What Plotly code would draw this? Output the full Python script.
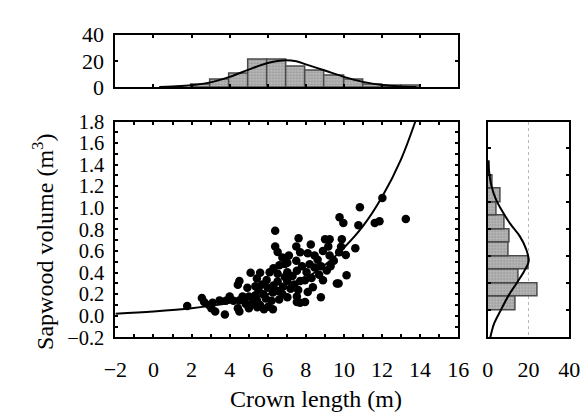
import plotly.graph_objects as go

# ---------------- data ----------------
crown_length = [
    1.77, 2.54, 2.66, 2.91, 3.04, 3.24, 3.75, 3.47, 4.0, 4.51, 4.68, 5.01, 5.35, 4.43, 4.51, 5.01,
    5.1, 4.51, 4.43, 4.93, 5.35, 5.2, 4.85, 5.45, 3.1, 3.8, 4.2,
    6.61, 7.03, 8.2, 6.1, 6.52, 7.03, 7.53, 8.04, 8.46, 5.43, 5.94, 6.52, 7.03, 7.7, 7.95, 9.63,
    8.37, 8.79, 5.51, 5.77, 6.27, 6.77, 7.03, 7.53, 7.53, 7.96, 5.43, 6.02, 6.27,
    5.7, 6.0, 6.3, 6.8, 7.2, 7.4, 6.5, 5.9, 6.2, 6.6, 5.6, 5.8, 6.9, 7.3, 8.7, 8.9, 8.3, 9.1,
    9.3, 8.8, 7.8, 6.3, 5.6, 7.6, 8.1, 7.7,
    6.39, 7.62, 6.39, 6.52, 7.5, 7.7, 8.26, 9.01, 9.25, 9.18, 6.77, 7.11, 6.9, 7.5, 8.46, 8.62,
    9.25, 9.47, 8.9, 8.1,
    12.02, 10.84, 9.77, 9.97, 10.76, 11.62, 11.87, 13.25, 9.89, 9.85, 9.75, 10.6, 10.1,
    10.14, 9.72,
]
sapwood_volume = [
    0.09, 0.166, 0.128, 0.10, 0.07, 0.04, 0.012, 0.143, 0.178, 0.143, 0.178, 0.18, 0.19, 0.07, 0.04, 0.07,
    0.398, 0.323, 0.288, 0.259, 0.274, 0.12, 0.11, 0.08, 0.12, 0.14, 0.14,
    0.468, 0.491, 0.477, 0.404, 0.39, 0.404, 0.418, 0.404, 0.448, 0.346, 0.332, 0.317, 0.32, 0.323, 0.33, 0.30,
    0.265, 0.172, 0.244, 0.20, 0.215, 0.20, 0.172, 0.178, 0.128, 0.128, 0.143, 0.085, 0.061,
    0.29, 0.26, 0.28, 0.27, 0.25, 0.29, 0.23, 0.16, 0.14, 0.15, 0.10, 0.06, 0.36, 0.37, 0.38, 0.33, 0.35, 0.42,
    0.46, 0.46, 0.46, 0.44, 0.40, 0.24, 0.22, 0.12,
    0.787, 0.718, 0.642, 0.592, 0.642, 0.59, 0.66, 0.709, 0.709, 0.642, 0.54, 0.558, 0.48, 0.511, 0.558, 0.52,
    0.558, 0.51, 0.60, 0.58,
    1.092, 1.005, 0.912, 0.86, 0.84, 0.86, 0.877, 0.897, 0.709, 0.64, 0.59, 0.627, 0.564,
    0.375, 0.30,
]

# fitted curve, points
fit_x = [-2, 0, 2, 4, 6, 8, 9, 10, 11, 12, 13, 13.75]
fit_y = [0.02, 0.04, 0.07, 0.12, 0.20, 0.35, 0.47, 0.63, 0.83, 1.10, 1.45, 1.80]

# top histogram (crown length), bin width 1
top_bin_centers = [2.5, 3.5, 4.5, 5.5, 6.5, 7.5, 8.5, 9.5, 10.5, 11.5, 12.5, 13.5]
top_counts = [2, 6, 10, 21, 21, 15.5, 13, 9, 6, 2, 1, 1]
top_curve_x = [0.3, 1, 2, 3, 4, 5, 6, 6.8, 7.5, 8, 9, 10, 11, 12, 13, 13.8]
top_curve_y = [0.3, 0.7, 1.6, 3.8, 8, 13.5, 18.5, 20.5, 19.8, 17.5, 12.8, 8, 4.2, 1.8, 0.7, 0.3]

# right histogram (sapwood volume), bin width 0.125
right_bin_centers = [0.1125, 0.2375, 0.3625, 0.4875, 0.6125, 0.7375, 0.8625, 0.9875, 1.1125, 1.2375, 1.3625]
right_counts = [13.5, 24.5, 15, 20, 10.5, 11, 8.5, 4.5, 6.5, 2.5, 1]
right_curve_y = [-0.2, -0.075, 0.047, 0.187, 0.30, 0.418, 0.505, 0.62, 0.738, 0.854, 0.97, 1.086, 1.2, 1.32, 1.434]
right_curve_x = [1.3, 3.1, 6.3, 10.2, 14.1, 18, 20.1, 18.8, 15.7, 11, 7.1, 3.9, 1.9, 0.8, 0.3]

x_ticks = [-2, 0, 2, 4, 6, 8, 10, 12, 14, 16]
y_ticks = [-0.2, 0.0, 0.2, 0.4, 0.6, 0.8, 1.0, 1.2, 1.4, 1.6, 1.8]
y_ticklabels = ["−0.2", "0.0", "0.2", "0.4", "0.6", "0.8", "1.0", "1.2", "1.4", "1.6", "1.8"]
count_ticks = [0, 20, 40]
right_y_ticks = [0.05, 0.3, 0.55, 0.8, 1.05, 1.3, 1.55]

# ---------------- figure ----------------
W, H = 588, 416
FONT = "Liberation Serif"
px = lambda a, b: [a / W, b / W]
py = lambda top, bot: [1 - bot / H, 1 - top / H]

main_x = px(99.3, 456)
main_y = py(108, 337.7)
top_y = py(15.7, 71.7)
right_x = px(486.7, 571.7)

bar_fill = "#b0b0b0"
bar_line = "#4a4a4a"
pattern = dict(shape=".", fgcolor="#6a6a6a", bgcolor="#bababa", size=3, solidity=0.4)

fig = go.Figure()

fig.add_trace(go.Scatter(x=crown_length, y=sapwood_volume, mode="markers",
                         marker=dict(color="black", size=8.5), xaxis="x", yaxis="y", showlegend=False))
fig.add_trace(go.Scatter(x=fit_x, y=fit_y, mode="lines", line=dict(color="black", width=2, shape="spline"),
                         xaxis="x", yaxis="y", showlegend=False, cliponaxis=True))

fig.add_trace(go.Bar(x=top_bin_centers, y=top_counts, width=1,
                     marker=dict(color=bar_fill, line=dict(color=bar_line, width=1.5), pattern=pattern),
                     xaxis="x2", yaxis="y2", showlegend=False))
fig.add_trace(go.Scatter(x=top_curve_x, y=top_curve_y, mode="lines",
                         line=dict(color="black", width=2, shape="spline"),
                         xaxis="x2", yaxis="y2", showlegend=False))

fig.add_trace(go.Bar(y=right_bin_centers, x=right_counts, width=0.125, orientation="h",
                     marker=dict(color=bar_fill, line=dict(color=bar_line, width=1.5), pattern=pattern),
                     xaxis="x3", yaxis="y3", showlegend=False))
fig.add_trace(go.Scatter(x=right_curve_x, y=right_curve_y, mode="lines",
                         line=dict(color="black", width=2, shape="spline"),
                         xaxis="x3", yaxis="y3", showlegend=False))

tickfont = dict(family=FONT, size=22, color="black")
frame = dict(showline=True, linecolor="black", linewidth=2, mirror="ticks",
             ticks="inside", ticklen=3, tickwidth=1.5, tickcolor="black",
             zeroline=False, showgrid=False, tickfont=tickfont)
minor_t = dict(ticks="inside", ticklen=3, tickwidth=1.5, tickcolor="black")

fig.update_layout(
    width=W, height=H, margin=dict(l=0, r=0, t=0, b=0),
    paper_bgcolor="white", plot_bgcolor="white", bargap=0,
    xaxis=dict(domain=main_x, range=[-2, 16], tickvals=x_ticks, anchor="y", ticklabelstandoff=11,
               minor=dict(dtick=1, **minor_t), **frame),
    yaxis=dict(domain=main_y, range=[-0.2, 1.8], tickvals=y_ticks, ticktext=y_ticklabels, anchor="x",
               ticklabelstandoff=5, minor=dict(dtick=0.1, **minor_t),
               **{**frame, "tickfont": dict(family=FONT, size=20.5, color="black")}),
    xaxis2=dict(domain=main_x, range=[-2, 16], tickvals=[0, 2, 4, 6, 8, 10, 12, 14],
                showticklabels=False, anchor="y2", **frame),
    yaxis2=dict(domain=top_y, range=[0, 40], tickvals=count_ticks, anchor="x2", ticklabelstandoff=5, **frame),
    xaxis3=dict(domain=right_x, range=[0, 40], tickvals=count_ticks, anchor="y3", ticklabelstandoff=11,
                **{**frame, "showgrid": True, "gridcolor": "#b8b8b8", "griddash": "dot", "gridwidth": 1,
                   "ticks": ""}),
    yaxis3=dict(domain=main_y, range=[-0.2, 1.8], tickvals=right_y_ticks, showticklabels=False,
                anchor="x3", **frame),
    annotations=[
        dict(text="Crown length (m)", x=308 / W, y=1 - 403 / H, xref="paper", yref="paper",
             showarrow=False, font=dict(family=FONT, size=24, color="black"),
             xanchor="center", yanchor="middle"),
        dict(text="Sapwood volume (m<sup>3</sup>)", x=24 / W, y=1 - 236 / H, xref="paper", yref="paper",
             showarrow=False, font=dict(family=FONT, size=24, color="black"), textangle=-90,
             xanchor="center", yanchor="middle"),
    ],
)

fig.write_html("out.html")
